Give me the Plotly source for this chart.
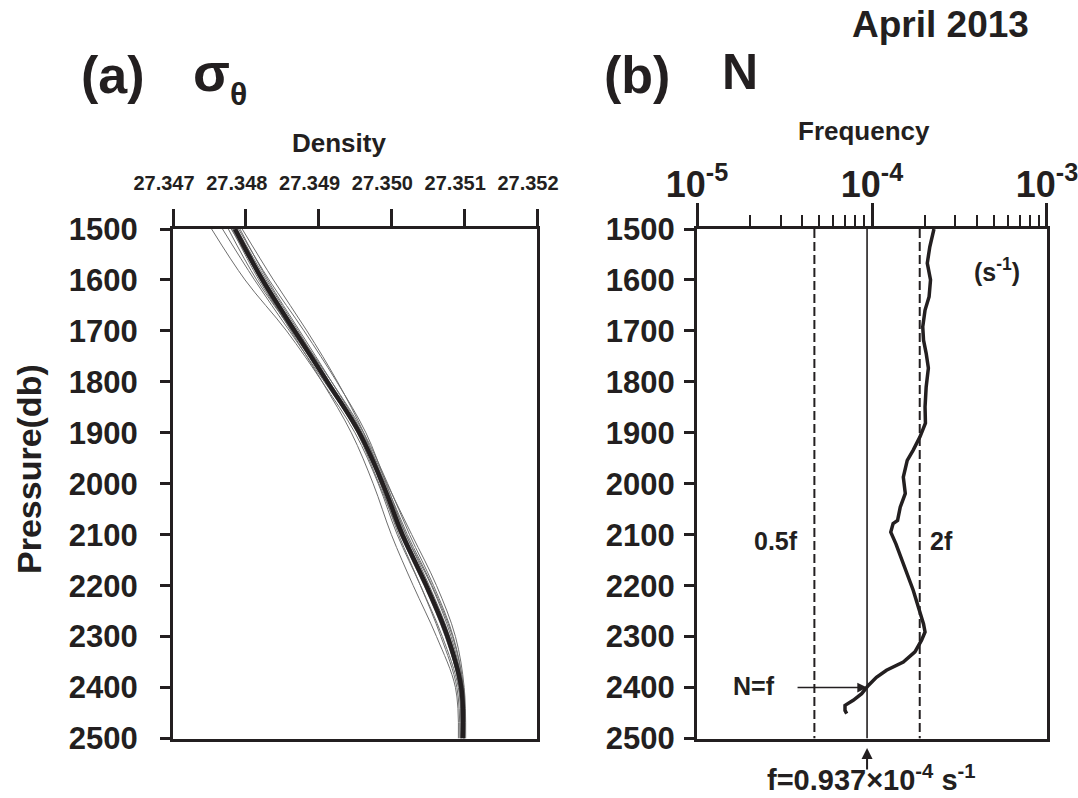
import math
import plotly.graph_objects as go

# ---------------- data ----------------
# Panel (a): potential density profiles (pressure in db)
PRESSURE_A = [1500, 1600, 1700, 1800, 1900, 2000, 2100, 2200, 2300, 2400, 2500]
DENSITY_MEAN = [27.34785, 27.34823, 27.34867, 27.34912, 27.34956, 27.34988,
                27.35015, 27.35048, 27.35077, 27.35096, 27.35098]
DENSITY_T1 = [27.34753, 27.34799, 27.34856, 27.34905, 27.34950, 27.34982, 27.35008, 27.35040, 27.35070, 27.35092, 27.35096]
DENSITY_T2 = [27.34768, 27.34812, 27.34860, 27.34908, 27.34955, 27.34990, 27.35020, 27.35052, 27.35080, 27.35097, 27.35099]
DENSITY_T3 = [27.34780, 27.34822, 27.34870, 27.34918, 27.34962, 27.34995, 27.35025, 27.35058, 27.35085, 27.35099, 27.35101]
DENSITY_T4 = [27.34790, 27.34832, 27.34880, 27.34925, 27.34965, 27.34993, 27.35020, 27.35055, 27.35082, 27.35098, 27.35100]
DENSITY_T5 = [27.34795, 27.34838, 27.34884, 27.34926, 27.34962, 27.34990, 27.35018, 27.35050, 27.35078, 27.35097, 27.35099]
DENSITY_T6 = [27.34788, 27.34828, 27.34872, 27.34915, 27.34958, 27.34985, 27.35010, 27.35040, 27.35068, 27.35090, 27.35094]
DENSITY_T7 = [27.34783, 27.34820, 27.34862, 27.34905, 27.34945, 27.34975, 27.35000, 27.35030, 27.35062, 27.35088, 27.35092]
DENSITY_T8 = [27.34786, 27.34826, 27.34870, 27.34914, 27.34958, 27.34992, 27.35022, 27.35056, 27.35084, 27.35099, 27.35100]
DENSITY_T9 = [27.34792, 27.34830, 27.34874, 27.34918, 27.34960, 27.34994, 27.35028, 27.35062, 27.35088, 27.35100, 27.35102]
DENSITY_T10 = [27.34781, 27.34818, 27.34863, 27.34910, 27.34953, 27.34983, 27.35012, 27.35045, 27.35074, 27.35094, 27.35097]
DENSITY_T11 = [27.34776, 27.34815, 27.34864, 27.34912, 27.34957, 27.34989, 27.35016, 27.35046, 27.35075, 27.35093, 27.35095]
THIN_PROFILES = [DENSITY_T1, DENSITY_T2, DENSITY_T3, DENSITY_T4, DENSITY_T5, DENSITY_T6,
                 DENSITY_T7, DENSITY_T8, DENSITY_T9, DENSITY_T10, DENSITY_T11]

# Panel (b): buoyancy frequency N (units of 1e-4 s^-1)
PRESSURE_B = [1500, 1535, 1567, 1600, 1633, 1659, 1692, 1718, 1744, 1773, 1810, 1849, 1881,
              1908, 1934, 1954, 1987, 2019, 2046, 2072, 2078, 2095, 2118, 2140, 2176, 2209,
              2242, 2275, 2291, 2307, 2330, 2350, 2366, 2380, 2396, 2412, 2425, 2435, 2445, 2451]
N_E4 = [2.26, 2.14, 2.07, 2.16, 2.12, 2.01, 1.95, 1.97, 2.04, 2.10, 2.04, 2.01, 2.02,
        1.88, 1.72, 1.59, 1.51, 1.55, 1.45, 1.40, 1.32, 1.28, 1.37, 1.45, 1.58, 1.72,
        1.84, 1.97, 2.01, 1.92, 1.76, 1.51, 1.21, 1.06, 0.953, 0.873, 0.781, 0.701, 0.701, 0.717]
F_INERTIAL = 0.937e-4
N_EQ_F_PRESSURE = 2400

DENSITY_TICKS = [27.347, 27.348, 27.349, 27.350, 27.351, 27.352]
PRESSURE_TICKS = [1500, 1600, 1700, 1800, 1900, 2000, 2100, 2200, 2300, 2400, 2500]
FREQ_TICKS = [1e-5, 1e-4, 1e-3]
FREQ_TICK_TEXT = ["10<sup>-5</sup>", "10<sup>-4</sup>", "10<sup>-3</sup>"]
FREQ_MINOR = [2e-5, 3e-5, 4e-5, 5e-5, 6e-5, 7e-5, 8e-5, 9e-5,
              2e-4, 3e-4, 4e-4, 5e-4, 6e-4, 7e-4, 8e-4, 9e-4]

# ---------------- layout helpers ----------------
W, H = 1078, 798
def px(x):
    return x / W
def py(y):
    return 1 - y / H

FONT = "Liberation Sans, Arial, sans-serif"
INK = "#231f20"

fig = go.Figure()

for prof in THIN_PROFILES:
    fig.add_trace(go.Scatter(x=prof, y=PRESSURE_A, mode="lines",
                             line=dict(color="#6e6e6e", width=1, shape="spline"),
                             xaxis="x", yaxis="y", showlegend=False, hoverinfo="skip"))
fig.add_trace(go.Scatter(x=DENSITY_MEAN, y=PRESSURE_A, mode="lines",
                         line=dict(color=INK, width=4.5, shape="spline"),
                         xaxis="x", yaxis="y", showlegend=False))

# Panel b reference lines
for val, dash, width in [(0.5 * F_INERTIAL, "9px,4px", 2), (2 * F_INERTIAL, "9px,4px", 2),
                         (F_INERTIAL, "solid", 1.6)]:
    fig.add_trace(go.Scatter(x=[val, val], y=[1500, 2500], mode="lines",
                             line=dict(color=INK, width=width, dash=dash),
                             xaxis="x2", yaxis="y2", showlegend=False, hoverinfo="skip"))

fig.add_trace(go.Scatter(x=[v * 1e-4 for v in N_E4], y=PRESSURE_B, mode="lines",
                         line=dict(color=INK, width=3.5),
                         xaxis="x2", yaxis="y2", showlegend=False))

YDOM = [py(738.5), py(229)]
tick_font_y = dict(family=FONT, size=31, color=INK, weight="bold")

yaxis_common = dict(range=[2500, 1500], tickmode="array", tickvals=PRESSURE_TICKS,
                    ticks="outside", ticklen=10, tickwidth=3, tickcolor=INK,
                    showline=True, linewidth=3, linecolor=INK, mirror=True,
                    showgrid=False, zeroline=False, tickfont=tick_font_y,
                    domain=YDOM, automargin=False)

fig.update_layout(
    template="none",
    width=W, height=H,
    margin=dict(l=0, r=0, t=0, b=0),
    paper_bgcolor="white", plot_bgcolor="white",
    showlegend=False,
    xaxis=dict(domain=[px(173), px(537)], side="top", range=[27.347, 27.352],
               tickmode="array", tickvals=DENSITY_TICKS,
               ticktext=[f"{v:.3f}" for v in DENSITY_TICKS],
               ticks="outside", ticklen=17, tickwidth=3, tickcolor=INK,
               showline=True, linewidth=3, linecolor=INK, mirror=True,
               showgrid=False, zeroline=False, anchor="y", automargin=False,
               tickfont=dict(family=FONT, size=20, color=INK, weight="bold"),
               ticklabelstandoff=11, ticklabelshift=-9, ticklabeloverflow="allow"),
    yaxis=dict(anchor="x", ticklabelstandoff=16, **yaxis_common),
    xaxis2=dict(domain=[px(697), px(1047)], side="top", type="log",
                range=[-5.0002, -2.9998], tickmode="array", tickvals=FREQ_TICKS,
                ticktext=FREQ_TICK_TEXT,
                ticks="outside", ticklen=23, tickwidth=3, tickcolor=INK,
                minor=dict(tickmode="array", tickvals=FREQ_MINOR, ticks="outside",
                           ticklen=11, tickwidth=2, tickcolor=INK, showgrid=False),
                showline=True, linewidth=3, linecolor=INK, mirror=True,
                showgrid=False, zeroline=False, anchor="y2", automargin=False,
                tickfont=dict(family=FONT, size=36, color=INK, weight="bold"),
                ticklabelstandoff=-8, ticklabeloverflow="allow"),
    yaxis2=dict(anchor="x2", ticklabelstandoff=3, **yaxis_common),
)

def txt(text, x, y, size, xanchor="center", yanchor="middle", angle=0):
    fig.add_annotation(text=text, x=px(x), y=py(y), xref="paper", yref="paper",
                       xanchor=xanchor, yanchor=yanchor, showarrow=False, textangle=angle,
                       font=dict(family=FONT, size=size, color=INK, weight="bold"))

txt("(a)", 113, 75, 52)
txt("σ", 191, 72, 54, xanchor="left")
txt("θ", 228, 94, 32, xanchor="left")
txt("(b)", 637, 75, 52)
txt("N", 720, 72, 50, xanchor="left")
txt("April 2013", 940, 24, 37)
txt("Density", 339, 143, 26)
txt("Frequency", 864, 131, 26)
txt("Pressure(db)", 29, 469, 34, angle=-90)
txt("(s<sup>-1</sup>)", 997, 270, 25)
txt("0.5f", 776, 541, 25)
txt("2f", 941, 541, 25)
txt("N=f", 754, 686, 25)
txt("f=0.937×10<sup>-4</sup> s<sup>-1</sup>", 871, 798, 29, yanchor="bottom")

# N=f arrow
fig.add_annotation(x=math.log10(F_INERTIAL), y=N_EQ_F_PRESSURE, xref="x2", yref="y2",
                   ax=-71, ay=0, axref="pixel", ayref="pixel", text="",
                   showarrow=True, arrowhead=2, arrowsize=1.3, arrowwidth=1.5,
                   arrowcolor=INK, standoff=0)
# f marker arrow under the axis
fig.add_annotation(x=math.log10(F_INERTIAL), y=py(748), xref="x2", yref="paper",
                   ax=0, ay=23, text="", showarrow=True, arrowhead=2, arrowsize=1.1,
                   arrowwidth=2, arrowcolor=INK, standoff=0)

fig.write_html("out.html")
